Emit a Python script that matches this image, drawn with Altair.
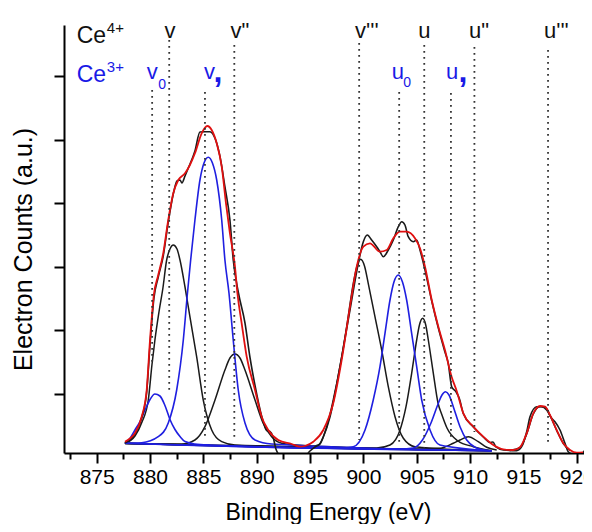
import altair as alt
import pandas as pd

# ---------------- data ----------------
# x: binding energy (eV); y: electron counts (arbitrary units)
envelope = [(877.65, 15.8), (878.12, 19.0), (878.59, 24.2), (879.22, 40.8), (879.69, 67.5), (880.00, 117.5),
            (880.37, 163.5), (880.75, 181.5), (881.24, 204.2), (881.71, 237.5), (882.18, 264.2), (882.65, 277.5),
            (883.28, 284.2), (883.74, 292.5), (884.21, 304.2), (884.84, 324.2), (885.37, 331.5), (885.78, 327.5),
            (886.25, 314.2), (886.72, 290.8), (887.12, 254.2), (887.49, 224.2), (887.96, 190.8), (888.20, 163.5),
            (888.59, 134.2), (889.06, 100.8), (889.84, 67.5), (890.46, 40.8), (891.08, 27.5), (892.02, 17.5),
            (893.28, 13.5), (894.05, 10.8), (894.52, 11.5), (895.30, 15.8), (896.24, 27.5), (897.17, 54.2),
            (897.96, 97.5), (898.74, 150.8), (899.37, 190.8), (899.99, 210.8), (900.61, 214.2), (901.55, 205.8),
            (902.18, 207.5), (902.80, 219.2), (903.43, 225.8), (904.05, 225.8), (904.83, 219.2), (905.30, 209.2),
            (905.77, 190.8), (906.40, 157.5), (907.02, 130.8), (907.64, 107.5), (908.27, 80.5), (908.74, 66.5),
            (909.36, 44.2), (910.30, 30.8), (911.23, 20.8), (912.17, 12.5), (913.11, 8.2), (914.04, 7.5),
            (914.67, 10.2), (915.30, 24.2), (915.92, 44.2), (916.55, 51.5), (917.02, 50.8), (917.48, 42.5),
            (918.11, 27.5), (918.73, 14.2), (919.36, 7.5), (919.99, 4.8), (920.58, 5.0)]

raw_counts = [(877.65, 14.5), (878.12, 17.5), (878.59, 23.5), (879.22, 39.5), (879.69, 65.5), (880.00, 112.5),
              (880.37, 159.5), (880.75, 179.5), (881.24, 201.5), (881.71, 235.5), (882.18, 263.5), (882.53, 276.5),
              (882.81, 277.5), (882.99, 274.5), (883.28, 281.5), (883.58, 289.2), (884.21, 306.5), (884.68, 325.5),
              (885.15, 325.8), (885.62, 325.8), (886.09, 319.2), (886.56, 300.8), (887.02, 270.8), (887.49, 237.5),
              (887.80, 197.5), (888.29, 164.5), (888.90, 134.5), (889.37, 100.0), (889.84, 72.0), (890.46, 41.5),
              (890.93, 27.0), (891.24, 26.0), (891.52, 21.0), (891.80, 8.5), (892.18, 2.5), (893.59, 0.5),
              (894.52, 1.5), (894.99, 6.5), (895.46, 10.5), (895.93, 13.5), (896.24, 20.5), (896.87, 40.8),
              (897.80, 90.8), (898.74, 147.5), (899.52, 194.2), (899.99, 215.8), (900.36, 222.5), (900.77, 217.5),
              (901.24, 210.8), (901.55, 205.8), (901.86, 200.8), (902.33, 207.5), (902.80, 217.5), (903.27, 230.8),
              (903.59, 235.8), (903.89, 232.5), (904.20, 220.8), (904.67, 215.8), (904.99, 217.5), (905.30, 207.5),
              (905.77, 187.5), (906.40, 156.5), (907.02, 129.5), (907.64, 105.5), (907.95, 94.0), (908.27, 70.8),
              (908.67, 65.8), (908.98, 59.2), (909.36, 44.0), (910.30, 30.5), (911.23, 20.5), (911.86, 15.0),
              (912.14, 15.5), (912.42, 10.5), (913.11, 7.5), (914.36, 6.8), (914.83, 10.8), (915.30, 25.8),
              (915.61, 40.8), (916.24, 50.8), (916.71, 50.8), (917.17, 47.5), (917.64, 39.2), (917.95, 35.8),
              (918.42, 27.5), (918.89, 14.2), (919.20, 5.8), (919.83, 2.5), (920.30, 3.0), (920.76, 7.5),
              (921.07, 15.8), (921.39, 17.5)]

# Ce4+ fitted components (black)
ce4_v = [(877.65, 14.2), (878.59, 21.5), (879.25, 35.5), (879.84, 57.5), (880.18, 92.5), (880.46, 117.5),
         (880.84, 145.5), (881.21, 169.5), (881.56, 197.5), (881.87, 208.5), (882.18, 212.5), (882.53, 208.5),
         (882.81, 197.5), (883.28, 170.5), (883.74, 140.8), (884.37, 100.8), (884.99, 57.5), (885.78, 27.5),
         (886.72, 15.8), (887.96, 12.5), (912.0, 6.7)]
ce4_v2 = [(877.65, 14.0), (880.93, 13.5), (882.97, 13.5), (884.21, 17.5), (885.15, 30.8), (886.09, 57.5),
          (887.02, 87.5), (887.49, 99.5), (887.96, 103.5), (888.43, 99.5), (888.90, 87.5), (889.84, 57.5),
          (890.61, 34.2), (891.40, 20.8), (892.34, 14.2), (893.59, 12.5), (912.0, 6.7)]
ce4_v3 = [(877.65, 14.0), (894.05, 10.8), (894.99, 10.6), (895.77, 12.5), (896.56, 30.8), (897.17, 57.5),
          (897.80, 90.8), (898.43, 130.8), (899.05, 174.2), (899.40, 191.5), (899.74, 198.2), (900.10, 191.5),
          (900.45, 174.2), (901.08, 140.8), (901.71, 107.5), (902.33, 70.8), (902.96, 40.8), (903.74, 19.2),
          (904.83, 10.8), (912.0, 6.7)]
ce4_u = [(877.65, 14.2), (901.24, 9.5), (902.49, 12.5), (903.43, 27.5), (903.99, 50.8), (904.52, 84.2),
         (904.99, 117.5), (905.25, 132.5), (905.55, 139.2), (905.84, 132.5), (906.08, 117.5), (906.55, 84.2),
         (906.99, 54.5), (907.36, 42.5), (907.83, 29.5), (908.86, 16.5), (910.30, 10.8), (912.0, 6.7)]
ce4_u2 = [(877.65, 14.2), (905.30, 8.5), (907.17, 9.2), (908.42, 14.2), (909.05, 17.5), (909.83, 20.8),
          (910.76, 15.8), (911.55, 10.2), (912.49, 7.5)]
ce4_u3 = [(913.73, 7.0), (914.67, 10.0), (915.30, 23.5), (915.92, 43.5), (916.55, 51.0), (917.02, 50.5),
          (917.48, 42.0), (918.11, 27.0), (918.73, 14.0), (919.36, 7.0)]

# Ce3+ fitted components (blue)
ce3_v0 = [(877.65, 14.2), (878.12, 19.0), (878.59, 27.5), (879.06, 36.0), (879.53, 47.5), (880.00, 58.0),
          (880.46, 63.5), (880.93, 61.5), (881.40, 52.0), (881.87, 38.0), (882.34, 28.0), (882.81, 21.0),
          (883.28, 16.0), (884.21, 13.5), (885.62, 12.5), (912.0, 6.7)]
ce3_v1 = [(877.65, 14.2), (879.22, 14.8), (880.77, 20.8), (881.71, 34.5), (882.50, 67.5), (883.12, 117.5),
          (883.51, 164.5), (883.81, 197.5), (884.21, 237.5), (884.68, 277.5), (885.06, 294.5), (885.46, 300.2),
          (885.85, 294.5), (886.25, 277.5), (886.72, 237.5), (887.02, 197.5), (887.40, 164.5), (887.80, 117.5),
          (888.27, 67.5), (888.90, 34.5), (889.84, 17.5), (891.40, 13.5), (912.0, 6.7)]
ce3_u0 = [(877.65, 14.2), (897.80, 9.5), (899.05, 10.8), (900.15, 27.5), (900.92, 57.5), (901.55, 90.8),
          (902.02, 124.2), (902.49, 157.5), (902.86, 175.5), (903.27, 182.5), (903.66, 175.5), (904.05, 157.5),
          (904.52, 124.2), (904.99, 90.8), (905.46, 57.5), (906.24, 27.5), (907.17, 12.5), (912.0, 6.7)]
ce3_u1 = [(877.65, 14.2), (903.43, 8.5), (904.67, 9.5), (905.53, 17.5), (906.33, 34.5), (907.03, 54.5),
          (907.36, 62.5), (907.69, 65.8), (908.02, 62.5), (908.42, 50.8), (909.05, 30.8), (909.68, 17.5),
          (910.46, 10.2), (911.55, 7.0), (912.0, 6.6)]

# peak marker lines (dotted)
marker_ev = [880.2, 881.8, 885.15, 887.9, 899.6, 903.35, 905.7, 908.2, 910.4, 917.3]
marker_top = [367.5, 417.5, 365.5, 412.5, 414.5, 365.5, 412.5, 364.5, 410.5, 407.5]
marker_bottom = [92.5, 65.5, 17.5, 20.5, 17.5, 12.5, 9.5, 19.5, 25.5, 14.5]

# text annotations
label_text = ["Ce", "4+", "Ce", "3+", "v", 'v"', "v'''", "u", 'u"', "u'''", "v", "0", "v", "u", "0", "u"]
label_ev = [873.13, 875.95, 873.13, 875.95, 881.35, 887.54, 899.21, 905.14, 909.89, 916.92,
            879.69, 880.77, 885.06, 902.65, 903.74, 907.74]
label_val = [414.2, 424.2, 375.8, 385.8, 419.5, 419.5, 419.5, 419.5, 419.5, 419.5,
             378.5, 368.5, 378.5, 378.5, 370.5, 378.5]
label_size = [23, 15, 23, 15, 22, 22, 22, 22, 22, 22, 22, 14, 22, 22, 14, 22]
label_color = ["#111111"] * 2 + ["#1a1ae6"] * 2 + ["#111111"] * 6 + ["#1a1ae6"] * 6
comma_ev = [885.95, 908.91]
comma_val = [375.5, 375.5]

major_ticks = [875, 880, 885, 890, 895, 900, 905, 910, 915, 920]
minor_ticks = [872.5, 877.5, 882.5, 887.5, 892.5, 897.5, 902.5, 907.5, 912.5, 917.5]
y_ticks = [63.6, 127.2, 190.8, 254.4, 318.0, 381.6]


def frame(name, pts):
    return pd.DataFrame({"curve": name, "eV": [p[0] for p in pts], "val": [p[1] for p in pts]})


df_black = pd.concat([frame("v", ce4_v), frame("v2", ce4_v2), frame("v3", ce4_v3),
                      frame("u", ce4_u), frame("u2", ce4_u2), frame("u3", ce4_u3)])
df_blue = pd.concat([frame("v0", ce3_v0), frame("v1", ce3_v1), frame("u0", ce3_u0), frame("u1", ce3_u1)])
df_raw = frame("raw", raw_counts)
df_env = frame("env", envelope)
df_mark = pd.DataFrame({"eV": marker_ev, "top": marker_top, "bottom": marker_bottom})
df_lab = pd.DataFrame({"eV": label_ev, "val": label_val, "text": label_text,
                       "size": label_size, "color": label_color})
df_comma = pd.DataFrame({"eV": comma_ev, "val": comma_val, "text": [",", ","]})

FONT = "Liberation Sans"
xscale = alt.Scale(domain=[871.94, 920.67], nice=False, zero=False)
yscale = alt.Scale(domain=[4.5, 432.5], nice=False, zero=False)

major_axis = alt.Axis(orient="bottom", values=major_ticks, format="d", grid=False,
                      tickSize=10, tickWidth=2, tickColor="black", domainWidth=2, domainColor="black",
                      labelFont=FONT, labelFontSize=21, labelColor="black", labelPadding=3,
                      labelOverlap=False, labelFlush=False,
                      title="Binding Energy (eV)", titleFont=FONT, titleFontSize=23,
                      titleFontWeight="normal", titleColor="black", titleX=264, titleY=66,
                      titleAlign="center", titleBaseline="alphabetic")
minor_axis = alt.Axis(orient="bottom", values=minor_ticks, grid=False, labels=False, domain=False,
                      tickSize=6, tickWidth=2, tickColor="black", title="")
y_axis = alt.Axis(values=y_ticks, labels=False, grid=False, tickSize=10, tickWidth=2, tickColor="black",
                  domainWidth=2, domainColor="black",
                  title="Electron Counts (a.u.)", titleFont=FONT, titleFontSize=25, titleFontWeight="normal",
                  titleColor="black", titleAngle=270, titleX=-41, titleY=224, titleAlign="center",
                  titleBaseline="middle")


def xy(axis_x, yfield="val:Q"):
    return dict(x=alt.X("eV:Q", scale=xscale, axis=axis_x),
                y=alt.Y(yfield, scale=yscale, axis=y_axis))


black_comp = alt.Chart(df_black).mark_line(color="#1a1a1a", strokeWidth=1.5, interpolate="monotone",
                                           clip=True).encode(detail="curve:N", **xy(major_axis))

blue_comp = alt.Chart(df_blue).mark_line(color="#1f1fe0", strokeWidth=1.6, interpolate="monotone",
                                         clip=True).encode(detail="curve:N", **xy(None))

raw_line = alt.Chart(df_raw).mark_line(color="#1a1a1a", strokeWidth=1.6, interpolate="monotone",
                                       clip=True).encode(**xy(None))

env_line = alt.Chart(df_env).mark_line(color="#e01010", strokeWidth=1.8, interpolate="monotone",
                                       clip=True).encode(**xy(None))

markers = alt.Chart(df_mark).mark_rule(color="#333333", strokeWidth=1.8, strokeDash=[1.8, 4.2]).encode(
    y2="bottom:Q", **xy(minor_axis, "top:Q"))

labels = alt.Chart(df_lab).mark_text(align="left", baseline="alphabetic", font=FONT).encode(
    text="text:N",
    size=alt.Size("size:Q", scale=None),
    color=alt.Color("color:N", scale=None),
    **xy(None))

commas = alt.Chart(df_comma).mark_text(align="left", baseline="alphabetic", font=FONT, fontSize=32,
                                       fontWeight="bold", color="#1a1ae6").encode(text="text:N", **xy(None))

chart = alt.layer(black_comp, blue_comp, raw_line, env_line, markers, labels, commas).resolve_axis(
    x="independent").resolve_scale(x="shared", y="shared").properties(
    width=520, height=428,
    autosize=alt.AutoSizeParams(type="none"),
    padding={"left": 56, "top": 17, "right": 0, "bottom": 71},
    background="white",
).configure_view(strokeWidth=0)

chart.save("out.html", embed_options={"renderer": "svg", "actions": False})
